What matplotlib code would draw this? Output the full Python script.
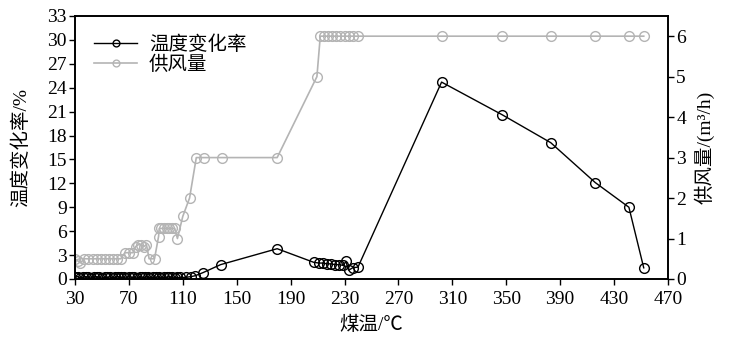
import matplotlib.pyplot as plt

plt.rcParams['font.family'] = ['Liberation Serif', 'Noto Sans CJK SC']
plt.rcParams['axes.unicode_minus'] = False

# temperature change rate (left axis, %)
temp_rate_x = [30, 32, 34, 36, 38, 40, 42, 44, 46, 48, 50, 52, 54, 56, 58, 60,
               62, 64, 66, 68, 70, 72, 74, 76, 78, 80, 82, 84, 86, 88, 90, 92,
               94, 96, 98, 100, 102, 104, 106, 108, 112, 116, 119, 125, 138,
               180, 207, 211, 214, 217, 220, 223, 226, 229, 231, 233, 236, 240,
               302, 347, 383, 416, 441, 452]
temp_rate_y = [0.2, 0.3, 0.1, 0.2, 0.3, 0.2, 0.1, 0.2, 0.3, 0.2, 0.1, 0.2, 0.2, 0.3, 0.1, 0.2,
               0.3, 0.2, 0.2, 0.1, 0.3, 0.2, 0.2, 0.1, 0.3, 0.2, 0.2, 0.3, 0.1, 0.2, 0.2, 0.3,
               0.1, 0.2, 0.2, 0.3, 0.2, 0.1, 0.2, 0.2, 0.2, 0.3, 0.4, 0.8, 1.8,
               3.8, 2.1, 2.0, 2.0, 1.9, 1.9, 1.8, 1.8, 1.7, 2.2, 1.1, 1.4, 1.5,
               24.7, 20.6, 17.1, 12.1, 9.0, 1.4]

# air supply (right axis, m3/h)
air_x = [30, 32, 34, 37, 40, 43, 46, 49, 52, 55, 58, 61, 64,
         67, 70, 73, 75, 77, 79, 81, 83, 85, 89,
         92, 92.5, 94, 96, 98, 100, 102, 104, 106, 110, 115,
         120, 126, 139, 180, 209.5,
         212, 215, 218, 221, 224, 227, 230, 233, 236, 240,
         302, 347, 383, 416, 441, 452]
air_y = [0.5, 0.45, 0.4, 0.5, 0.5, 0.5, 0.5, 0.5, 0.5, 0.5, 0.5, 0.5, 0.5,
         0.65, 0.65, 0.65, 0.8, 0.85, 0.85, 0.8, 0.85, 0.5, 0.5,
         1.05, 1.25, 1.25, 1.25, 1.25, 1.25, 1.25, 1.25, 1.0, 1.55, 2.0,
         3.0, 3.0, 3.0, 3.0, 5.0,
         6.0, 6.0, 6.0, 6.0, 6.0, 6.0, 6.0, 6.0, 6.0, 6.0,
         6.0, 6.0, 6.0, 6.0, 6.0, 6.0]

fig = plt.figure(figsize=(7.31, 3.39), dpi=100)
ax1 = fig.add_axes([0.1026, 0.177, 0.8112, 0.776])
ax2 = ax1.twinx()

grey = '#b4b4b4'
ax2.plot(air_x, air_y, color=grey, lw=1.2, marker='o', ms=7,
         mfc='none', mec=grey, mew=1.0, label='供风量')
ax1.plot(temp_rate_x, temp_rate_y, color='black', lw=1.0, marker='o', ms=7,
         mfc='none', mec='black', mew=1.0, label='温度变化率')
ax1.set_zorder(ax2.get_zorder() + 1)
ax1.patch.set_visible(False)

ax1.set_xlim(30, 470)
ax1.set_ylim(0, 33)
ax2.set_ylim(0, 6.5)
ax1.set_xticks(range(30, 471, 40))
ax1.set_yticks(range(0, 34, 3))
ax2.set_yticks(range(0, 7))

for ax in (ax1, ax2):
    ax.tick_params(direction='out', labelsize=14, length=4, width=1, pad=2)
    for s in ax.spines.values():
        s.set_linewidth(1.2)
ax1.tick_params(axis='x', pad=5)

ax1.set_xlabel('煤温/℃', fontsize=14, labelpad=5)
ax1.set_ylabel('温度变化率/%', fontsize=14, labelpad=12)
ax2.set_ylabel('供风量/(m³/h)', fontsize=14, labelpad=6)

h1, l1 = ax1.get_legend_handles_labels()
h2, l2 = ax2.get_legend_handles_labels()
ax1.legend(h1 + h2, l1 + l2, loc='upper left', frameon=False, fontsize=14,
           markerscale=0.7, handlelength=2.2, borderaxespad=0.6, labelspacing=0.1,
           handletextpad=0.6)

fig.savefig('out.png', dpi=100)
